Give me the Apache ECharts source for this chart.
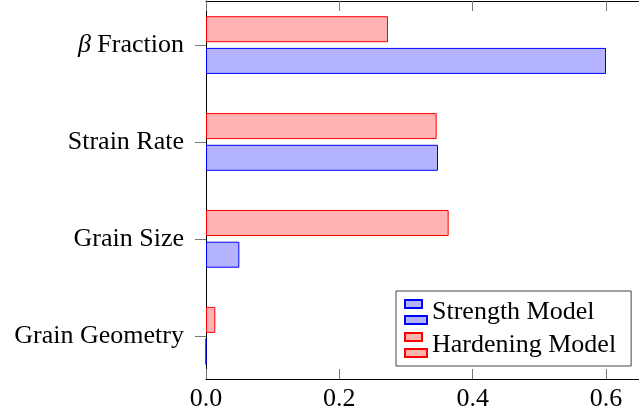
<!DOCTYPE html>
<html>
<head>
<meta charset="utf-8">
<script src="https://cdn.jsdelivr.net/npm/echarts@6/dist/echarts.min.js"></script>
<style>
  html, body { margin: 0; padding: 0; background: #ffffff; }
  #chart { width: 639px; height: 417px; }
</style>
</head>
<body>
<div id="chart"></div>
<script>
// Sensitivity of each factor in the two models
const categories = ['Grain Geometry', 'Grain Size', 'Strain Rate', 'β Fraction'];
const strengthModel = [0.0, 0.050, 0.348, 0.600];
const hardeningModel = [0.014, 0.364, 0.346, 0.273];
const xTickValues = [0, 0.2, 0.4, 0.6];
const seriesNames = ['Strength Model', 'Hardening Model'];

const FONT = '"Liberation Serif", "Times New Roman", serif';
const X_MAX = 0.66;
const PLOT_LEFT = 206;
const PLOT_WIDTH = 440;

const chart = echarts.init(document.getElementById('chart'), null, { renderer: 'canvas' });

// Two-rectangle legend glyph, as used for bar plots
const barLegendIcon = 'path://M0,0h17v8h-17z M0,16h22v8h-22z';

const option = {
  animation: false,
  backgroundColor: '#ffffff',
  textStyle: { fontFamily: FONT, color: '#000' },
  grid: [
    // frame with the value axes (runs past the right edge of the canvas)
    { left: PLOT_LEFT, top: 1, width: PLOT_WIDTH, height: 378, outerBoundsMode: 'none' },
    // bar layout grid, slightly taller so the category bands sit evenly
    { left: PLOT_LEFT, top: -3.4, width: PLOT_WIDTH, height: 387.6, outerBoundsMode: 'none' }
  ],
  xAxis: [
    {
      gridIndex: 0, type: 'value', position: 'bottom', min: 0, max: X_MAX,
      axisLine: { show: true, lineStyle: { color: '#000', width: 1 } },
      axisTick: { show: true, inside: true, length: 10, customValues: xTickValues,
                  lineStyle: { color: '#777', width: 1 } },
      axisLabel: { show: true, customValues: xTickValues, margin: 7,
                   fontFamily: FONT, fontSize: 26, color: '#000',
                   formatter: v => v.toFixed(1) },
      splitLine: { show: false }
    },
    {
      gridIndex: 0, type: 'value', position: 'top', min: 0, max: X_MAX,
      axisLine: { show: true, lineStyle: { color: '#000', width: 1 } },
      axisTick: { show: true, inside: true, length: 10, customValues: xTickValues,
                  lineStyle: { color: '#777', width: 1 } },
      axisLabel: { show: false },
      splitLine: { show: false }
    },
    {
      gridIndex: 1, type: 'value', min: 0, max: X_MAX, show: false
    }
  ],
  yAxis: [
    {
      gridIndex: 0, type: 'value', min: 0, max: 1,
      axisLine: { show: true, lineStyle: { color: '#000', width: 1 } },
      axisTick: { show: false }, axisLabel: { show: false }, splitLine: { show: false }
    },
    {
      gridIndex: 1, type: 'category', data: categories,
      axisLine: { show: false },
      axisTick: { show: true, alignWithLabel: true, length: 11,
                  lineStyle: { color: '#777', width: 1 } },
      axisLabel: {
        margin: 22, fontFamily: FONT, fontSize: 26, color: '#000',
        formatter: v => v.replace(/^β/, '{i|β}'),
        rich: { i: { fontFamily: FONT, fontSize: 26, fontStyle: 'italic', color: '#000' } }
      },
      splitLine: { show: false }
    }
  ],
  legend: {
    orient: 'vertical', left: 396, top: 291,
    padding: [8, 15, 8, 8], itemGap: 7,
    itemWidth: 22, itemHeight: 24,
    backgroundColor: '#ffffff', borderColor: '#444', borderWidth: 1, borderRadius: 0,
    textStyle: { fontFamily: FONT, fontSize: 26, color: '#000', lineHeight: 26 },
    data: seriesNames.map(name => ({ name, icon: barLegendIcon }))
  },
  // Hardening listed first so it sits above Strength within each category band
  series: [
    {
      name: seriesNames[1], type: 'bar', xAxisIndex: 2, yAxisIndex: 1,
      data: hardeningModel, barWidth: 26, barGap: '22%',
      itemStyle: { color: '#ffb3b3', borderColor: '#ff0000', borderWidth: 1 }
    },
    {
      name: seriesNames[0], type: 'bar', xAxisIndex: 2, yAxisIndex: 1,
      data: strengthModel, barWidth: 26, barGap: '22%',
      itemStyle: { color: '#b3b3ff', borderColor: '#0000ff', borderWidth: 1 }
    }
  ]
};

chart.setOption(option);
</script>
</body>
</html>
